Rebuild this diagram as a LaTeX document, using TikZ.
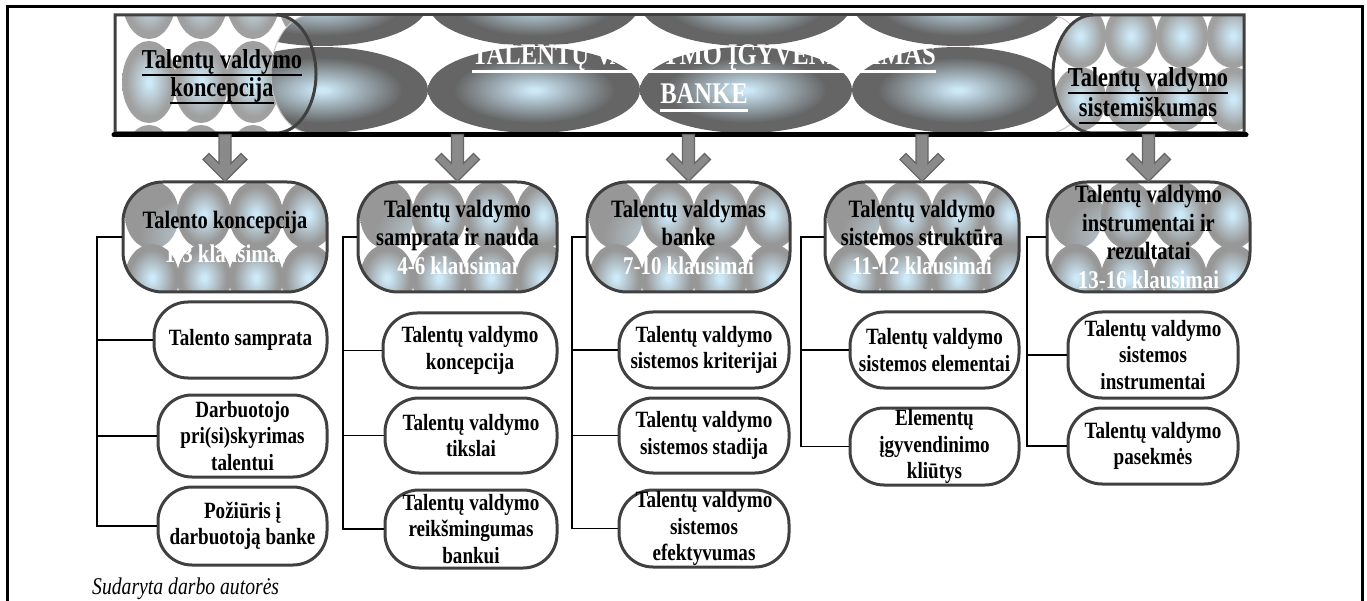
\documentclass[tikz,border=0pt]{standalone}
\usepackage{fontspec}
\setmainfont{Liberation Serif}[FakeStretch=0.82]
\usetikzlibrary{calc}
\definecolor{edgec}{HTML}{404040}
\definecolor{ballgray}{HTML}{979797}
\definecolor{ballgrayl}{HTML}{A0A0A0}
\definecolor{ballblue}{HTML}{CDE9F8}
\definecolor{dgray}{HTML}{656565}
\definecolor{arrowc}{HTML}{8A8A8A}
\pgfdeclareradialshading{ball}{\pgfpoint{0bp}{0bp}}{color(0bp)=(ballblue); color(2bp)=(ballblue); color(21bp)=(ballgray); color(50bp)=(ballgray)}
\pgfdeclareradialshading{lball}{\pgfpoint{0bp}{0bp}}{color(0bp)=(ballblue); color(2bp)=(ballblue); color(21bp)=(ballgrayl); color(50bp)=(ballgrayl)}
\pgfdeclareradialshading{dball}{\pgfpoint{0bp}{0bp}}{color(0bp)=(ballblue); color(1bp)=(ballblue); color(19bp)=(dgray); color(50bp)=(dgray)}
\newcommand\hdrfont{\bfseries\fontsize{25}{28.5}\selectfont}
\newcommand\subfont{\bfseries\fontsize{23.3}{26.5}\selectfont}
\newcommand\bannerfont{\bfseries\fontsize{27.3}{28}\selectfont}
\newcommand\myul[2][black]{\setbox0=\hbox{#2}\leavevmode\rlap{\color{#1}\rule[-0.28em]{\wd0}{0.08em}}\box0}
\newcommand\wq[1]{\textcolor{white}{\fontsize{25.5}{28.5}\selectfont #1}}
\newcommand\downarrowto[1]{\begin{scope}[shift={(#1.north)}]\filldraw[downarr] (-6,-46) -- (-6,-17) -- (-16,-27) -- (-22,-21) -- (0,1) -- (22,-21) -- (16,-27) -- (6,-17) -- (6,-46) -- cycle;\end{scope}}
\tikzset{
  hdr/.style={draw=edgec, fill=white, line width=3pt, rounded corners=40pt, inner sep=0pt, align=center, font=\hdrfont, minimum height=110pt,
    path picture={\foreach \i in {0,...,3}{\foreach \j in {0,1}{\shade[shading=ball] ([shift={(29+52*\i,33+63*\j)}]path picture bounding box.north west) ellipse [x radius=27, y radius=34];}}}},
  subbox/.style={draw=edgec, fill=white, line width=3pt, rounded corners=34pt, inner sep=0pt, align=center, font=\subfont},
  conn/.style={draw=black, line width=1.5pt},
  downarr/.style={fill=arrowc, draw=edgec!80, line width=1.2pt, line join=miter},
  frameline/.style={line width=3pt, draw=black},
  bannerline/.style={draw=edgec, line width=3pt},
}
\begin{document}
\begin{tikzpicture}[x=1pt,y=-1pt]
\useasboundingbox (0,0) rectangle (1367,601);
% outer frame
\draw[frameline] (7,605) -- (7,7) -- (1362,7) -- (1362,605);

% ---- banner: left section fill
\begin{scope}
\clip (115,15) -- (276,15) arc[start angle=-90,end angle=90,x radius=40,y radius=59] -- (115,133) -- cycle;
\fill[white] (100,0) rectangle (330,140);
\foreach \cx in {149,201,253,305} \foreach \cy in {-2,82,166} \shade[shading=lball] (\cx,\cy) ellipse[x radius=27,y radius=41];
\end{scope}
% middle section
\begin{scope}
\clip (311,15) -- (1049,15) arc[start angle=-90,end angle=90,x radius=40,y radius=59] -- (311,133) arc[start angle=90,end angle=270,x radius=40,y radius=59] -- cycle;
\fill[white] (260,0) rectangle (1100,140);
\foreach \cx in {322,534,746,958,1170} \foreach \cy in {3,90,175} \shade[shading=dball] (\cx,\cy) ellipse[x radius=106,y radius=43];
\end{scope}
\draw[gray!45, line width=1pt] (311,15) -- (1049,15) arc[start angle=-90,end angle=90,x radius=40,y radius=59] -- (311,133) arc[start angle=90,end angle=270,x radius=40,y radius=59] -- cycle;
\draw[bannerline] (276,15) -- (1093,15);
% left outline
\draw[bannerline] (115,15) -- (276,15) arc[start angle=-90,end angle=90,x radius=40,y radius=59] -- (115,133) -- cycle;
% right section
\begin{scope}
\clip (1244,15) -- (1093,15) arc[start angle=270,end angle=90,x radius=40,y radius=59] -- (1244,133) -- cycle;
\fill[white] (1040,0) rectangle (1260,140);
\foreach \cx in {1080,1131,1182,1233} \foreach \cy in {-27,36,99,162} \shade[shading=lball] (\cx,\cy) ellipse[x radius=26,y radius=32];
\end{scope}
\draw[bannerline] (1244,15) -- (1093,15) arc[start angle=270,end angle=90,x radius=40,y radius=59] -- (1244,133) -- cycle;
% thick base line
\draw[line width=5pt, line cap=round] (114,135) -- (1246,135);

% banner texts
\node[font=\bannerfont, align=center, inner sep=0pt] (tl) at (222,77) {\myul{Talentų valdymo}\\\myul{koncepcija}};
\node[font=\bfseries\fontsize{30}{39}\selectfont, align=center, text=white, inner sep=0pt] (tm) at (704,78) {\myul[white]{TALENTŲ VALDYMO ĮGYVENDINIMAS}\\\myul[white]{BANKE}};
\node[font=\bfseries\fontsize{27.3}{30}\selectfont, align=center, inner sep=0pt] (tr) at (1148,96) {\myul{Talentų valdymo}\\\myul{sistemiškumas}};

% headers
\node[hdr, minimum width=204] (h1) at (225,237) {Talento koncepcija\\[6pt]\wq{1-3 klausimai}};
\node[hdr, minimum width=199] (h2) at (457.5,237) {Talentų valdymo\\samprata ir nauda\\\wq{4-6 klausimai}};
\node[hdr, minimum width=203] (h3) at (688.5,237) {Talentų valdymas\\banke\\\wq{7-10 klausimai}};
\node[hdr, minimum width=194] (h4) at (922,237) {Talentų valdymo\\sistemos struktūra\\\wq{11-12 klausimai}};
\node[hdr, minimum width=203] (h5) at (1148.5,237) {Talentų valdymo\\instrumentai ir\\rezultatai\\\wq{13-16 klausimai}};

% arrows from banner
\downarrowto{h1}
\downarrowto{h2}
\downarrowto{h3}
\downarrowto{h4}
\downarrowto{h5}

% sub boxes
\node[subbox, minimum width=173, minimum height=76] (s11) at (240.5,340) {Talento samprata};
\node[subbox, minimum width=169, minimum height=82] (s12) at (242.5,436) {Darbuotojo\\pri(si)skyrimas\\talentui};
\node[subbox, minimum width=169, minimum height=78] (s13) at (242.5,526) {Požiūris į\\darbuotoją banke};
\node[subbox, minimum width=174, minimum height=75] (s21) at (470,350.5) {Talentų valdymo\\koncepcija};
\node[subbox, minimum width=172, minimum height=75] (s22) at (471,435.5) {Talentų valdymo\\tikslai};
\node[subbox, minimum width=172, minimum height=78] (s23) at (471,529) {Talentų valdymo\\reikšmingumas\\bankui};
\node[subbox, minimum width=170, minimum height=76] (s31) at (704,350) {Talentų valdymo\\sistemos kriterijai};
\node[subbox, minimum width=170, minimum height=75] (s32) at (704,435.5) {Talentų valdymo\\sistemos stadija};
\node[subbox, minimum width=170, minimum height=77] (s33) at (704,528.5) {Talentų valdymo\\sistemos\\efektyvumas};
\node[subbox, minimum width=169, minimum height=76] (s41) at (934.5,350) {Talentų valdymo\\sistemos elementai};
\node[subbox, minimum width=169, minimum height=77] (s42) at (934.5,446.5) {Elementų\\įgyvendinimo\\kliūtys};
\node[subbox, minimum width=170, minimum height=86] (s51) at (1153,355) {Talentų valdymo\\sistemos\\instrumentai};
\node[subbox, minimum width=170, minimum height=76] (s52) at (1153,446) {Talentų valdymo\\pasekmės};

% bracket connectors
\coordinate (b1) at (97,0);
\coordinate (b2) at (343,0);
\coordinate (b3) at (572,0);
\coordinate (b4) at (801,0);
\coordinate (b5) at (1027,0);
\draw[conn] (h1.west) -- (h1.west -| b1) |- (s13.west);
\draw[conn] (s11.west) -- (s11.west -| b1);
\draw[conn] (s12.west) -- (s12.west -| b1);
\draw[conn] (h2.west) -- (h2.west -| b2) |- (s23.west);
\draw[conn] (s21.west) -- (s21.west -| b2);
\draw[conn] (s22.west) -- (s22.west -| b2);
\draw[conn] (h3.west) -- (h3.west -| b3) |- (s33.west);
\draw[conn] (s31.west) -- (s31.west -| b3);
\draw[conn] (s32.west) -- (s32.west -| b3);
\draw[conn] (h4.west) -- (h4.west -| b4) |- (s42.west);
\draw[conn] (s41.west) -- (s41.west -| b4);
\draw[conn] (h5.west) -- (h5.west -| b5) |- (s52.west);
\draw[conn] (s51.west) -- (s51.west -| b5);

% source note
\node[anchor=base west, inner sep=0pt, font=\itshape\fontsize{24}{26}\selectfont] (src) at (92,594) {Sudaryta darbo autorės};
\end{tikzpicture}
\end{document}
